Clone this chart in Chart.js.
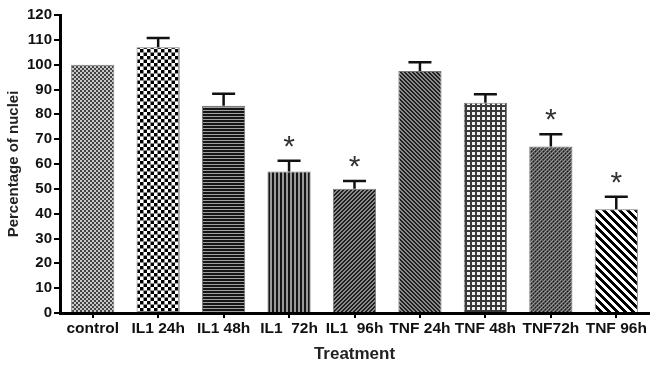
<!DOCTYPE html>
<html>
<head>
<meta charset="utf-8">
<script src="https://cdn.jsdelivr.net/npm/chart.js@4/dist/chart.umd.min.js"></script>
<style>
html,body{margin:0;padding:0;background:#fff;}
canvas{display:block;}
</style>
</head>
<body>
<canvas id="c" width="653" height="368"></canvas>
<script>
// ---- data ----
const categories = ['control', 'IL1 24h', 'IL1 48h', 'IL1  72h', 'IL1  96h', 'TNF 24h', 'TNF 48h', 'TNF72h', 'TNF 96h'];
const percentNuclei = [100, 107, 83.5, 57, 50, 97.5, 84.7, 67, 41.8];
const errorUpper = [0, 3.7, 4.8, 4.3, 3.2, 3.5, 3.4, 5, 5];
const significant = [false, false, false, true, true, false, false, true, true];
const yTickMin = 0, yTickMax = 120, yTickStep = 10;

// ---- patterns ----
function makePattern(size, fn) {
  const c = document.createElement('canvas');
  c.width = size; c.height = size;
  const g = c.getContext('2d');
  for (let x = 0; x < size; x++) for (let y = 0; y < size; y++) {
    g.fillStyle = fn(x, y);
    g.fillRect(x, y, 1, 1);
  }
  return g.createPattern(c, 'repeat');
}
const patterns = [
  makePattern(4, (x, y) => ((Math.floor(x / 2) + Math.floor(y / 2)) % 2) ? '#444' : '#c8c8c8'),
  makePattern(7, (x, y) => {
    const fx = x < 3 ? 0 : (x === 3 ? -1 : 1);
    const fy = y < 3 ? 0 : (y === 3 ? -1 : 1);
    if (fx < 0 || fy < 0) return '#8a8a8a';
    return ((fx + fy) % 2 === 0) ? '#000' : '#fff';
  }),
  makePattern(3, (x, y) => y < 2 ? '#151515' : '#a0a0a0'),
  makePattern(4, (x, y) => x < 2 ? '#151515' : '#9a9a9a'),
  makePattern(4, (x, y) => ((x + y) % 4 < 2) ? '#1e1e1e' : '#8a8a8a'),
  makePattern(4, (x, y) => ((x - y + 8) % 4 < 2) ? '#1e1e1e' : '#8a8a8a'),
  makePattern(5, (x, y) => (x < 2 || y < 2) ? '#3a3a3a' : '#f2f2f2'),
  makePattern(4, (x, y) => ((x + y) % 4 === 0) ? '#9a9a9a' : (((x - y + 8) % 4 === 0) ? '#1e1e1e' : '#555')),
  makePattern(8, (x, y) => ((x - y + 16) % 8 < 4) ? '#000' : '#fff')
];

// ---- error bars + stars ----
const errorBarPlugin = {
  id: 'errorBars',
  afterDatasetsDraw(chart) {
    const ctx = chart.ctx;
    const meta = chart.getDatasetMeta(0);
    const ys = chart.scales.y;
    ctx.save();
    meta.data.forEach((bar, i) => {
      const v = percentNuclei[i], e = errorUpper[i];
      const x = bar.x;
      const yBar = ys.getPixelForValue(v);
      const yTop = ys.getPixelForValue(v + e);
      if (e > 0) {
        ctx.strokeStyle = '#111';
        ctx.lineWidth = 2.5;
        ctx.beginPath();
        ctx.moveTo(x, yBar);
        ctx.lineTo(x, yTop);
        ctx.moveTo(x - 11.5, yTop);
        ctx.lineTo(x + 11.5, yTop);
        ctx.stroke();
      }
      if (significant[i]) {
        ctx.fillStyle = '#333';
        ctx.font = '30px "Liberation Sans", Arial, sans-serif';
        ctx.textAlign = 'center';
        ctx.textBaseline = 'alphabetic';
        ctx.fillText('*', x, yTop - 5);
      }
    });
    ctx.restore();
  }
};

const fontFamily = '"Liberation Sans", Arial, Helvetica, sans-serif';

new Chart(document.getElementById('c'), {
  type: 'bar',
  data: {
    labels: categories,
    datasets: [{
      data: percentNuclei,
      backgroundColor: patterns,
      borderColor: '#7a7a7a',
      borderWidth: 1,
      barPercentage: 0.66,
      categoryPercentage: 1.0
    }]
  },
  options: {
    responsive: false,
    animation: false,
    devicePixelRatio: 1,
    layout: { padding: { top: 15, right: 4, left: 0, bottom: 0 } },
    plugins: { legend: { display: false }, tooltip: { enabled: false } },
    scales: {
      x: {
        afterFit(s) { s.height = 55; },
        border: { display: true, color: '#000', width: 3 },
        grid: { display: true, drawOnChartArea: false, drawTicks: true, tickLength: 5, lineWidth: 2, color: '#000', offset: false },
        ticks: { color: '#111', font: { family: fontFamily, size: 15.5, weight: 'bold' }, padding: 1, maxRotation: 0, autoSkip: false },
        title: { display: true, text: 'Treatment', color: '#222', font: { family: fontFamily, size: 17, weight: 'bold' }, padding: { top: 0, bottom: 3 } }
      },
      y: {
        min: yTickMin, max: yTickMax,
        afterFit(s) { s.width = 60; },
        border: { display: true, color: '#000', width: 3 },
        grid: { display: true, drawOnChartArea: false, drawTicks: true, tickLength: 6, lineWidth: 2, color: '#000' },
        ticks: { stepSize: yTickStep, color: '#111', font: { family: fontFamily, size: 15, weight: 'bold' }, padding: 2 },
        title: { display: true, text: 'Percentage of nuclei', color: '#222', font: { family: fontFamily, size: 15, weight: 'bold' }, padding: { top: 5, bottom: 0 } }
      }
    }
  },
  plugins: [errorBarPlugin]
});
</script>
</body>
</html>
